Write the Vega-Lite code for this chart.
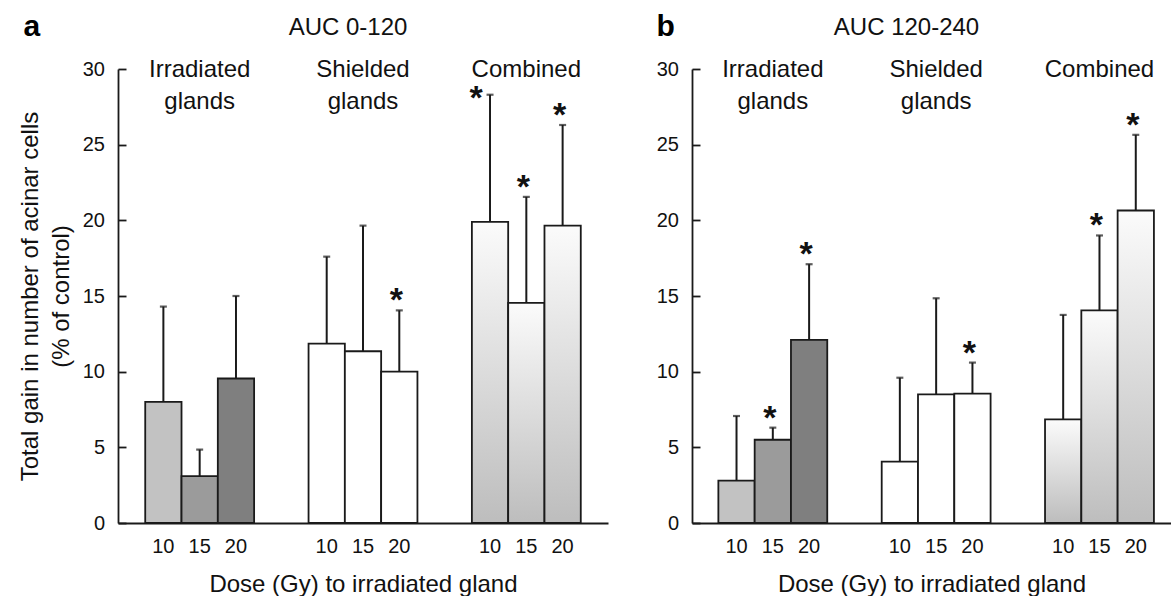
{
  "$schema": "https://vega.github.io/schema/vega-lite/v6.json",
  "background": "white",
  "padding": {"left": 18, "top": 11, "right": 0, "bottom": 0},
  "spacing": 48,
  "config": {
    "font": "Liberation Sans",
    "view": {"stroke": null},
    "axis": {"grid": false, "domainColor": "#1a1a1a", "domainWidth": 1.8, "labelColor": "#111111", "titleColor": "#111111", "labelFont": "Liberation Sans", "titleFont": "Liberation Sans", "titleFontWeight": "normal"},
    "title": {"font": "Liberation Sans", "fontSize": 24, "fontWeight": "normal", "color": "#111111", "anchor": "middle", "frame": "group"}
  },
  "datasets": {
    "a": [
      {"group": "Irradiated glands", "dose": "10", "mean": 8.0, "upper": 14.3, "sig": false},
      {"group": "Irradiated glands", "dose": "15", "mean": 3.1, "upper": 4.85, "sig": false},
      {"group": "Irradiated glands", "dose": "20", "mean": 9.55, "upper": 15.0, "sig": false},
      {"group": "Shielded glands", "dose": "10", "mean": 11.85, "upper": 17.6, "sig": false},
      {"group": "Shielded glands", "dose": "15", "mean": 11.35, "upper": 19.65, "sig": false},
      {"group": "Shielded glands", "dose": "20", "mean": 10.0, "upper": 14.05, "sig": true},
      {"group": "Combined", "dose": "10", "mean": 19.9, "upper": 28.3, "sig": true},
      {"group": "Combined", "dose": "15", "mean": 14.55, "upper": 21.55, "sig": true},
      {"group": "Combined", "dose": "20", "mean": 19.65, "upper": 26.3, "sig": true}
    ],
    "b": [
      {"group": "Irradiated glands", "dose": "10", "mean": 2.8, "upper": 7.07, "sig": false},
      {"group": "Irradiated glands", "dose": "15", "mean": 5.5, "upper": 6.3, "sig": true},
      {"group": "Irradiated glands", "dose": "20", "mean": 12.1, "upper": 17.1, "sig": true},
      {"group": "Shielded glands", "dose": "10", "mean": 4.05, "upper": 9.6, "sig": false},
      {"group": "Shielded glands", "dose": "15", "mean": 8.5, "upper": 14.85, "sig": false},
      {"group": "Shielded glands", "dose": "20", "mean": 8.55, "upper": 10.6, "sig": true},
      {"group": "Combined", "dose": "10", "mean": 6.85, "upper": 13.75, "sig": false},
      {"group": "Combined", "dose": "15", "mean": 14.05, "upper": 19.0, "sig": true},
      {"group": "Combined", "dose": "20", "mean": 20.65, "upper": 25.65, "sig": true}
    ]
  },
  "hconcat": [
    {
      "width": 490,
      "height": 454,
      "data": {"name": "a"},
      "title": {"text": "AUC 0-120", "dx": -15, "offset": -28.5},
      "encoding": {
        "x": {"field": "group", "type": "nominal", "sort": ["Irradiated glands", "Shielded glands", "Combined"], "scale": {"paddingInner": 0.3333, "paddingOuter": 0.1667}, "axis": {"labels": false, "ticks": false, "title": "Dose (Gy) to irradiated gland", "titleFontSize": 24, "titlePadding": 49}},
        "xOffset": {"field": "dose", "type": "nominal", "sort": ["10", "15", "20"], "scale": {"paddingInner": 0, "paddingOuter": 0}},
        "y": {"field": "mean", "type": "quantitative", "scale": {"domain": [0, 30]}, "axis": {"values": [0, 5, 10, 15, 20, 25, 30], "tickSize": -8, "tickWidth": 1.8, "tickColor": "#1a1a1a", "labelFontSize": 20, "labelPadding": 21.5, "title": ["Total gain in number of acinar cells", "(% of control)"], "titleFontSize": 24, "titleLineHeight": 31, "titlePadding": 9}}
      },
      "layer": [
        {"transform": [{"filter": "datum.group === 'Irradiated glands'"}], "mark": {"type": "bar", "stroke": "#1a1a1a", "strokeWidth": 1.8}, "encoding": {"color": {"field": "dose", "type": "nominal", "scale": {"domain": ["10", "15", "20"], "range": ["#c2c2c2", "#9b9b9b", "#7f7f7f"]}, "legend": null}}},
        {"transform": [{"filter": "datum.group === 'Shielded glands'"}], "mark": {"type": "bar", "fill": "white", "stroke": "#1a1a1a", "strokeWidth": 1.8}},
        {"transform": [{"filter": "datum.group === 'Combined'"}], "mark": {"type": "bar", "stroke": "#1a1a1a", "strokeWidth": 1.8, "fill": {"gradient": "linear", "x1": 0, "y1": 0, "x2": 0, "y2": 1, "stops": [{"offset": 0, "color": "#fbfbfb"}, {"offset": 1, "color": "#bdbdbd"}]}}},
        {"mark": {"type": "rule", "stroke": "#1a1a1a", "strokeWidth": 2}, "encoding": {"y": {"field": "mean", "type": "quantitative"}, "y2": {"field": "upper"}}},
        {"mark": {"type": "tick", "orient": "horizontal", "size": 7, "thickness": 2.2, "color": "#1a1a1a"}, "encoding": {"y": {"field": "upper", "type": "quantitative"}}},
        {"mark": {"type": "text", "fontSize": 20, "baseline": "alphabetic", "dy": 30, "color": "#111111"}, "encoding": {"y": {"datum": 0}, "text": {"field": "dose"}}},
        {"transform": [{"filter": "datum.dose === '15'"}], "mark": {"type": "text", "fontSize": 24, "baseline": "alphabetic", "dy": 8, "lineBreak": " ", "lineHeight": 32, "color": "#111111"}, "encoding": {"y": {"datum": 30}, "text": {"field": "group"}}},
        {"transform": [{"filter": "datum.sig && !(datum.group === 'Combined' && datum.dose === '10')"}], "mark": {"type": "text", "text": "*", "fontSize": 34, "fontWeight": "bold", "baseline": "alphabetic", "dx": -3, "dy": 1, "color": "#111111"}, "encoding": {"y": {"field": "upper", "type": "quantitative"}}},
        {"transform": [{"filter": "datum.sig && datum.group === 'Combined' && datum.dose === '10'"}], "mark": {"type": "text", "text": "*", "fontSize": 34, "fontWeight": "bold", "baseline": "alphabetic", "dx": -14, "dy": 14, "color": "#111111"}, "encoding": {"y": {"field": "upper", "type": "quantitative"}}},
        {"transform": [{"filter": "datum.group === 'Irradiated glands' && datum.dose === '10'"}], "mark": {"type": "text", "text": "a", "fontSize": 30, "fontWeight": "bold", "align": "left", "baseline": "alphabetic", "dx": -140, "dy": -33.5, "color": "#000000"}, "encoding": {"y": {"datum": 30}}}
      ]
    },
    {
      "width": 479,
      "height": 454,
      "data": {"name": "b"},
      "title": {"text": "AUC 120-240", "dx": -25, "offset": -28.5},
      "encoding": {
        "x": {"field": "group", "type": "nominal", "sort": ["Irradiated glands", "Shielded glands", "Combined"], "scale": {"paddingInner": 0.3333, "paddingOuter": 0.133, "align": 0.607}, "axis": {"labels": false, "ticks": false, "title": "Dose (Gy) to irradiated gland", "titleFontSize": 24, "titlePadding": 49}},
        "xOffset": {"field": "dose", "type": "nominal", "sort": ["10", "15", "20"], "scale": {"paddingInner": 0, "paddingOuter": 0}},
        "y": {"field": "mean", "type": "quantitative", "scale": {"domain": [0, 30]}, "axis": {"values": [0, 5, 10, 15, 20, 25, 30], "tickSize": -8, "tickWidth": 1.8, "tickColor": "#1a1a1a", "labelFontSize": 20, "labelPadding": 21.5, "title": null}}
      },
      "layer": [
        {"transform": [{"filter": "datum.group === 'Irradiated glands'"}], "mark": {"type": "bar", "stroke": "#1a1a1a", "strokeWidth": 1.8}, "encoding": {"color": {"field": "dose", "type": "nominal", "scale": {"domain": ["10", "15", "20"], "range": ["#c2c2c2", "#9b9b9b", "#7f7f7f"]}, "legend": null}}},
        {"transform": [{"filter": "datum.group === 'Shielded glands'"}], "mark": {"type": "bar", "fill": "white", "stroke": "#1a1a1a", "strokeWidth": 1.8}},
        {"transform": [{"filter": "datum.group === 'Combined'"}], "mark": {"type": "bar", "stroke": "#1a1a1a", "strokeWidth": 1.8, "fill": {"gradient": "linear", "x1": 0, "y1": 0, "x2": 0, "y2": 1, "stops": [{"offset": 0, "color": "#fbfbfb"}, {"offset": 1, "color": "#bdbdbd"}]}}},
        {"mark": {"type": "rule", "stroke": "#1a1a1a", "strokeWidth": 2}, "encoding": {"y": {"field": "mean", "type": "quantitative"}, "y2": {"field": "upper"}}},
        {"mark": {"type": "tick", "orient": "horizontal", "size": 7, "thickness": 2.2, "color": "#1a1a1a"}, "encoding": {"y": {"field": "upper", "type": "quantitative"}}},
        {"mark": {"type": "text", "fontSize": 20, "baseline": "alphabetic", "dy": 30, "color": "#111111"}, "encoding": {"y": {"datum": 0}, "text": {"field": "dose"}}},
        {"transform": [{"filter": "datum.dose === '15'"}], "mark": {"type": "text", "fontSize": 24, "baseline": "alphabetic", "dy": 8, "lineBreak": " ", "lineHeight": 32, "color": "#111111"}, "encoding": {"y": {"datum": 30}, "text": {"field": "group"}}},
        {"transform": [{"filter": "datum.sig"}], "mark": {"type": "text", "text": "*", "fontSize": 34, "fontWeight": "bold", "baseline": "alphabetic", "dx": -3, "dy": 1, "color": "#111111"}, "encoding": {"y": {"field": "upper", "type": "quantitative"}}},
        {"transform": [{"filter": "datum.group === 'Irradiated glands' && datum.dose === '10'"}], "mark": {"type": "text", "text": "b", "fontSize": 30, "fontWeight": "bold", "align": "left", "baseline": "alphabetic", "dx": -80, "dy": -33.5, "color": "#000000"}, "encoding": {"y": {"datum": 30}}}
      ]
    }
  ]
}
